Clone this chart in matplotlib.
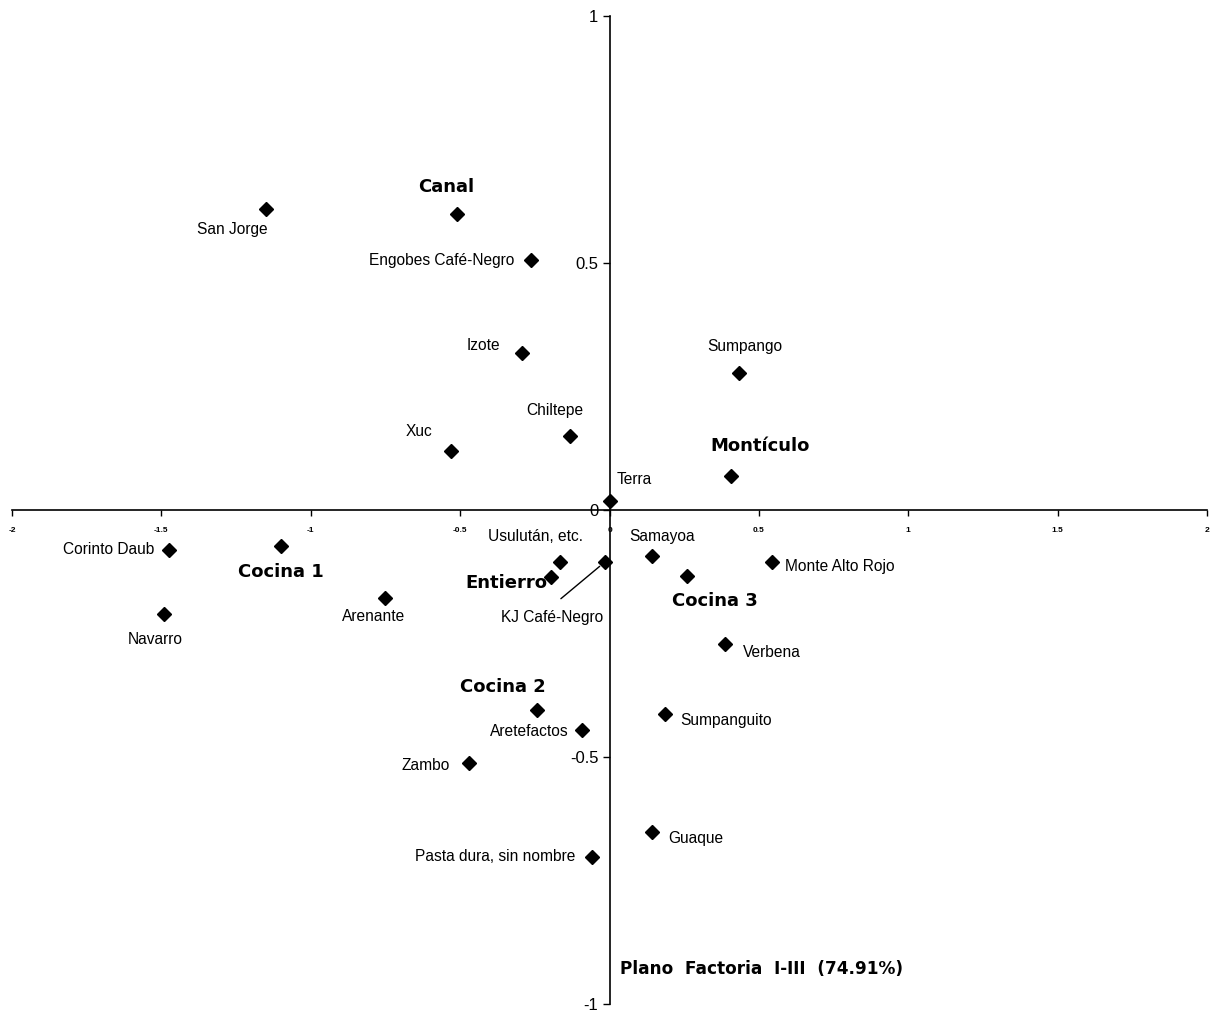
import matplotlib.pyplot as plt

# modalities (regular labels)
names = ['San Jorge', 'Engobes Café-Negro', 'Izote', 'Chiltepe', 'Xuc', 'Sumpango',
         'Terra', 'Corinto Daub', 'Navarro', 'Arenante', 'Usulután, etc.',
         'KJ Café-Negro', 'Samayoa', 'Monte Alto Rojo', 'Verbena', 'Aretefactos',
         'Sumpanguito', 'Zambo', 'Guaque', 'Pasta dura, sin nombre']
xs = [-1.15, -0.263, -0.293, -0.132, -0.53, 0.433,
      0.0, -1.474, -1.491, -0.751, -0.166,
      -0.015, 0.142, 0.544, 0.387, -0.092,
      0.186, -0.470, 0.142, -0.059]
ys = [0.609, 0.506, 0.318, 0.150, 0.119, 0.277,
      0.018, -0.081, -0.211, -0.178, -0.105,
      -0.105, -0.093, -0.105, -0.271, -0.445,
      -0.413, -0.512, -0.652, -0.702]

# contexts (bold labels)
groups = ['Canal', 'Montículo', 'Cocina 1', 'Entierro', 'Cocina 3', 'Cocina 2']
gx = [-0.51, 0.407, -1.10, -0.196, 0.259, -0.243]
gy = [0.60, 0.069, -0.073, -0.136, -0.134, -0.405]

xticks = [-2, -1.5, -1, -0.5, 0, 0.5, 1, 1.5, 2]
yticks = [-1, -0.5, 0, 0.5, 1]

# label offsets in pixels, alignment
name_pos = {
    'San Jorge': (2, -20, 'right'),
    'Engobes Café-Negro': (-17, 0, 'right'),
    'Izote': (-39, 7, 'center'),
    'Chiltepe': (-15, 25, 'center'),
    'Xuc': (-32, 20, 'center'),
    'Sumpango': (6, 27, 'center'),
    'Terra': (7, 22, 'left'),
    'Corinto Daub': (-15, 1, 'right'),
    'Navarro': (-9, -25, 'center'),
    'Arenante': (-12, -19, 'center'),
    'Usulután, etc.': (-24, 25, 'center'),
    'KJ Café-Negro': (-53, -56, 'center'),
    'Samayoa': (10, 19, 'center'),
    'Monte Alto Rojo': (13, -5, 'left'),
    'Verbena': (18, -9, 'left'),
    'Aretefactos': (-53, -2, 'center'),
    'Sumpanguito': (15, -6, 'left'),
    'Zambo': (-43, -3, 'center'),
    'Guaque': (16, -6, 'left'),
    'Pasta dura, sin nombre': (-16, 0, 'right'),
}
group_pos = {
    'Canal': (-11, 27, 'center'),
    'Montículo': (29, 30, 'center'),
    'Cocina 1': (0, -26, 'center'),
    'Entierro': (-4, -6, 'right'),
    'Cocina 3': (28, -25, 'center'),
    'Cocina 2': (-34, 23, 'center'),
}

fig = plt.figure(figsize=(12.24, 10.18), dpi=100)
ax = fig.add_axes([12 / 1224, 1 - 1004 / 1018, 1195 / 1224, 988 / 1018])
ax.set_xlim(-2, 2)
ax.set_ylim(-1, 1)

ax.spines['left'].set_position('zero')
ax.spines['bottom'].set_position('zero')
ax.spines['right'].set_visible(False)
ax.spines['top'].set_visible(False)
ax.spines['left'].set_linewidth(1.2)
ax.spines['bottom'].set_linewidth(1.2)

ax.set_xticks(xticks)
ax.set_xticklabels([f'{t:g}' for t in xticks], fontsize=6, fontweight='bold',
                   family='Liberation Sans')
ax.set_yticks(yticks)
ax.set_yticklabels([f'{t:g}' for t in yticks], fontsize=12, family='Liberation Sans')
ax.tick_params(axis='x', direction='out', length=4, width=1, pad=8)
ax.tick_params(axis='y', direction='out', length=5, width=1, pad=3)

ax.plot(xs, ys, 'kD', markersize=7.2, linestyle='none')
ax.plot(gx, gy, 'kD', markersize=7.2, linestyle='none')

for n, x, y in zip(names, xs, ys):
    dx, dy, ha = name_pos[n]
    if n == 'KJ Café-Negro':
        ax.annotate(n, xy=(x, y), xytext=(dx, dy), textcoords='offset pixels',
                    ha=ha, va='center', fontsize=11.2, family='Liberation Sans',
                    arrowprops=dict(arrowstyle='-', color='k', lw=1,
                                    relpos=(0.45, 1.0), shrinkA=10, shrinkB=5))
    else:
        ax.annotate(n, xy=(x, y), xytext=(dx, dy), textcoords='offset pixels',
                    ha=ha, va='center', fontsize=11.2, family='Liberation Sans')

for n, x, y in zip(groups, gx, gy):
    dx, dy, ha = group_pos[n]
    ax.annotate(n, xy=(x, y), xytext=(dx, dy), textcoords='offset pixels',
                ha=ha, va='center', fontsize=13, fontweight='bold',
                family='DejaVu Sans')

ax.text(0.035, -0.93, 'Plano  Factoria  I-III  (74.91%)', fontsize=12.2,
        fontweight='bold', family='DejaVu Sans', ha='left', va='center')

fig.savefig('out.png', dpi=100, facecolor='white')
